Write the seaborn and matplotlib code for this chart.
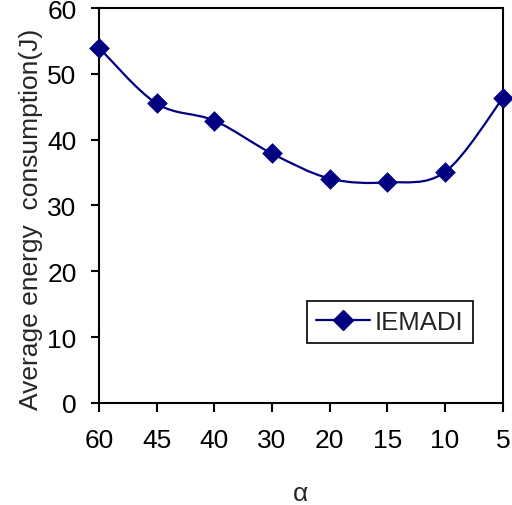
import numpy as np
import pandas as pd
import seaborn as sns
import matplotlib
matplotlib.use("Agg")
import matplotlib.pyplot as plt
from matplotlib.path import Path
from matplotlib.patches import PathPatch
from matplotlib.lines import Line2D

# Data
alpha_labels = ["60", "45", "40", "30", "20", "15", "10", "5"]
energy = [54.0, 45.5, 42.9, 37.9, 34.1, 33.5, 35.1, 46.3]
series_name = "IEMADI"
x_title = "α"
y_title = "Average energy  consumption(J)"

sns.set_style("ticks")
plt.rcParams["font.family"] = ["Liberation Sans", "DejaVu Sans"]

navy = "#000080"
fig = plt.figure(figsize=(5.12, 5.06), dpi=100)
ax = fig.add_axes([0.193, 0.2016, 0.789, 0.7806])

df = pd.DataFrame({"alpha": alpha_labels, "energy": energy})
pos = np.arange(len(alpha_labels), dtype=float)

# Smoothed line (Excel-style Catmull-Rom Bezier) through data points
pts = np.column_stack([pos, np.array(energy, dtype=float)])
verts = [tuple(pts[0])]
codes = [Path.MOVETO]
n = len(pts)
for i in range(n - 1):
    p0 = pts[i - 1] if i > 0 else pts[i]
    p1 = pts[i]
    p2 = pts[i + 1]
    p3 = pts[i + 2] if i + 2 < n else pts[i + 1]
    c1 = p1 + (p2 - p0) / 6.0
    c2 = p2 - (p3 - p1) / 6.0
    verts += [tuple(c1), tuple(c2), tuple(p2)]
    codes += [Path.CURVE4] * 3
ax.add_patch(PathPatch(Path(verts, codes), facecolor="none", edgecolor=navy,
                       lw=1.6, zorder=2, clip_on=False))

sns.scatterplot(data=df, x="alpha", y="energy", marker="D", s=100, color=navy,
                edgecolor=navy, linewidth=0.5, ax=ax, zorder=3, clip_on=False,
                legend=False)

ax.set_xlim(0, len(alpha_labels) - 1)
ax.set_ylim(0, 60)
ax.set_yticks([0, 10, 20, 30, 40, 50, 60])
ax.set_xticks(pos)
ax.set_xticklabels(alpha_labels)

for s in ax.spines.values():
    s.set_visible(True)
    s.set_linewidth(1.5)
    s.set_color("black")
ax.tick_params(axis="x", direction="out", length=6.5, width=1.5, pad=11.5,
               labelsize=19, colors="black", top=False)
ax.tick_params(axis="y", direction="out", length=6, width=1.5, pad=10,
               labelsize=19, colors="black", right=False)

ax.set_xlabel(x_title, fontsize=19)
ax.set_ylabel(y_title, fontsize=19)
ax.xaxis.set_label_coords(0.5, -0.198)
ax.yaxis.set_label_coords(-0.1386, 0.468)

handle = Line2D([], [], color=navy, lw=1.6, marker="D", markersize=10,
                markerfacecolor=navy, markeredgecolor=navy)
leg = ax.legend([handle], [series_name], loc="center",
                bbox_to_anchor=(0.72, 0.204), fontsize=18.5, frameon=True,
                fancybox=False, framealpha=1, edgecolor="black",
                handlelength=2.1, borderpad=0.35, handletextpad=0.2)
leg.get_frame().set_linewidth(1.2)

fig.savefig("out.png", dpi=100)
